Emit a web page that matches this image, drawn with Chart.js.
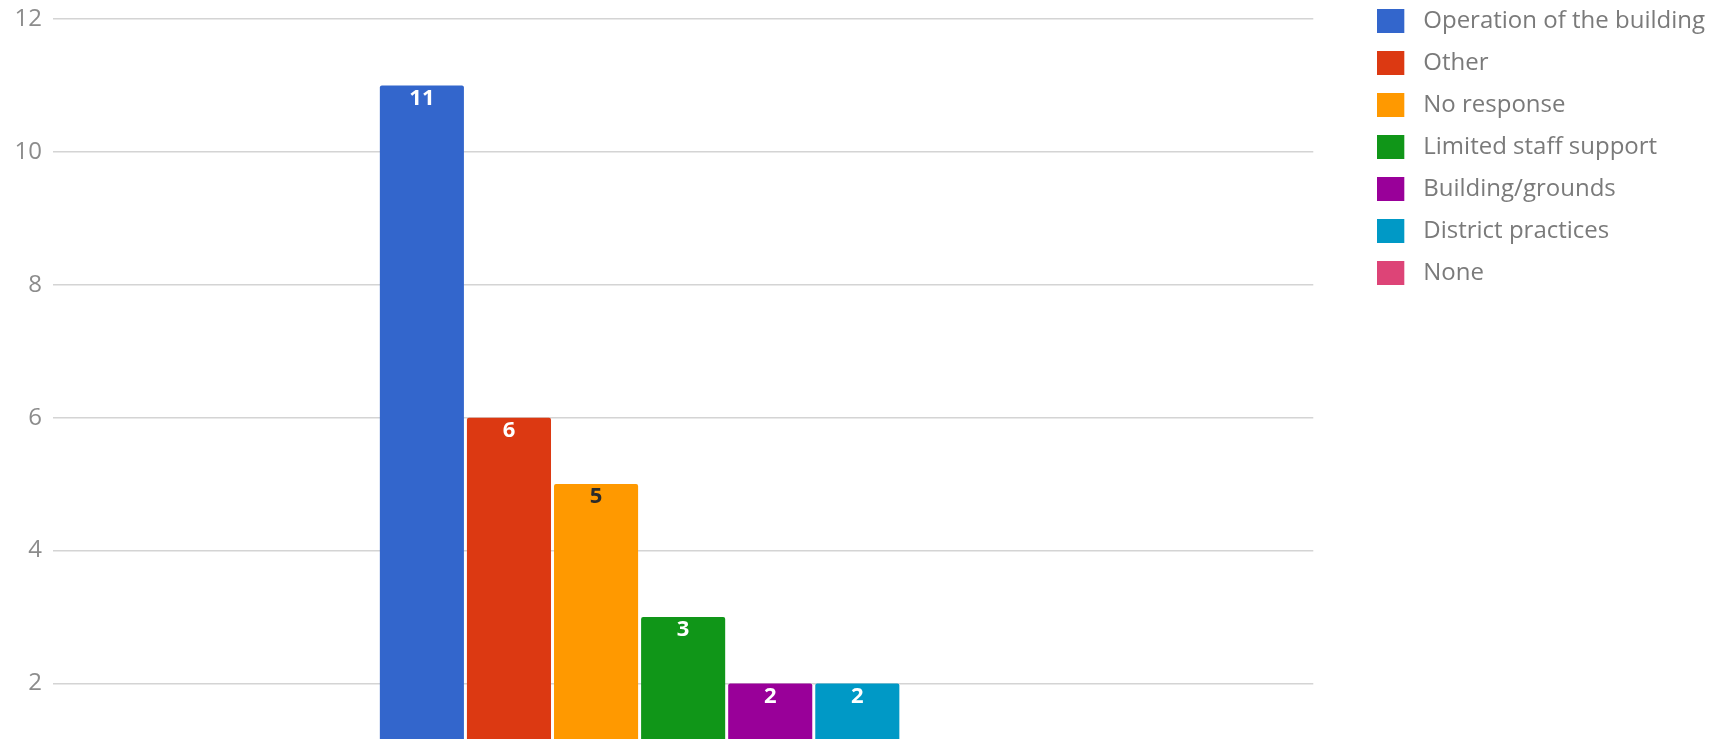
<!DOCTYPE html>
<html>
<head>
<meta charset="utf-8">
<script src="https://cdn.jsdelivr.net/npm/chart.js@4.4.1/dist/chart.umd.min.js"></script>
<style>
    html, body { margin: 0; padding: 0; background: #ffffff; overflow: hidden; }
    #wrap { width: 1725px; height: 739px; position: relative; }
</style>
</head>
<body>
<div id="wrap"><canvas id="bar-chart"></canvas></div>
<script>
// Chart data
const categories = [''];
const seriesNames = [
    'Operation of the building',
    'Other',
    'No response',
    'Limited staff support',
    'Building/grounds',
    'District practices',
    'None'
];
const seriesValues = [11, 6, 5, 3, 2, 2, 1];
const yTickValues = [2, 4, 6, 8, 10, 12];

// Styles
const seriesColors = ['#3366cc', '#dc3912', '#ff9900', '#109618', '#990099', '#0099c6', '#dd4477'];
const labelColors = ['#ffffff', '#ffffff', '#2b2b2b', '#ffffff', '#ffffff', '#ffffff', '#ffffff'];
const fontFamily = '"Open Sans", Roboto, sans-serif';

// Legend swatch: square on the left, empty space on the right
function makeSwatch(color) {
    const c = document.createElement('canvas');
    c.width = 34;
    c.height = 24;
    const g = c.getContext('2d');
    g.fillStyle = color;
    g.fillRect(0, 0, 27, 24);
    return c;
}

// Value labels inside the top of each bar
const barLabels = {
    id: 'barLabels',
    afterDatasetsDraw(chart) {
        const ctx = chart.ctx;
        ctx.save();
        ctx.font = 'bold 22px ' + fontFamily;
        ctx.textAlign = 'center';
        ctx.textBaseline = 'middle';
        chart.data.datasets.forEach((ds, i) => {
            const meta = chart.getDatasetMeta(i);
            meta.data.forEach((bar, j) => {
                ctx.fillStyle = labelColors[i];
                ctx.fillText(String(ds.data[j]), bar.x, bar.y + 13);
            });
        });
        ctx.restore();
    }
};

const ctx = document.getElementById('bar-chart').getContext('2d');
new Chart(ctx, {
    type: 'bar',
    data: {
        labels: categories,
        datasets: seriesNames.map((name, i) => ({
            label: name,
            data: [seriesValues[i]],
            backgroundColor: seriesColors[i],
            categoryPercentage: 0.4837,
            barPercentage: 0.9655,
            borderRadius: 2,
            clip: false
        }))
    },
    options: {
        responsive: true,
        maintainAspectRatio: false,
        animation: false,
        layout: {
            padding: { top: 0, right: 10, bottom: 0, left: 0 }
        },
        plugins: {
            tooltip: { enabled: false },
            legend: {
                position: 'right',
                align: 'start',
                maxWidth: 500,
                labels: {
                    usePointStyle: true,
                    pointStyleWidth: 34,
                    padding: 9,
                    color: '#7a7a7a',
                    font: { family: fontFamily, size: 24, lineHeight: '33px' },
                    generateLabels(chart) {
                        return chart.data.datasets.map((ds, i) => ({
                            text: [ds.label],
                            fillStyle: ds.backgroundColor,
                            strokeStyle: 'rgba(0,0,0,0)',
                            lineWidth: 0,
                            pointStyle: makeSwatch(ds.backgroundColor),
                            fontColor: '#7a7a7a',
                            hidden: false,
                            datasetIndex: i
                        }));
                    }
                }
            }
        },
        scales: {
            x: {
                display: false
            },
            y: {
                min: 1.45,
                max: 12,
                afterBuildTicks: (scale) => {
                    scale.ticks = yTickValues.map(v => ({ value: v }));
                },
                afterFit: (scale) => { scale.width = 53; },
                ticks: {
                    padding: 11,
                    color: '#8c8c8c',
                    font: { family: fontFamily, size: 24, lineHeight: '16px' }
                },
                grid: {
                    color: '#d4d4d4',
                    lineWidth: 1.5,
                    drawTicks: false
                },
                border: { display: false }
            },
            yR: {
                position: 'right',
                ticks: { display: false },
                grid: { display: false, drawTicks: false },
                border: { display: false },
                afterFit: (scale) => { scale.width = 55; }
            }
        }
    },
    plugins: [barLabels]
});
</script>
</body>
</html>
